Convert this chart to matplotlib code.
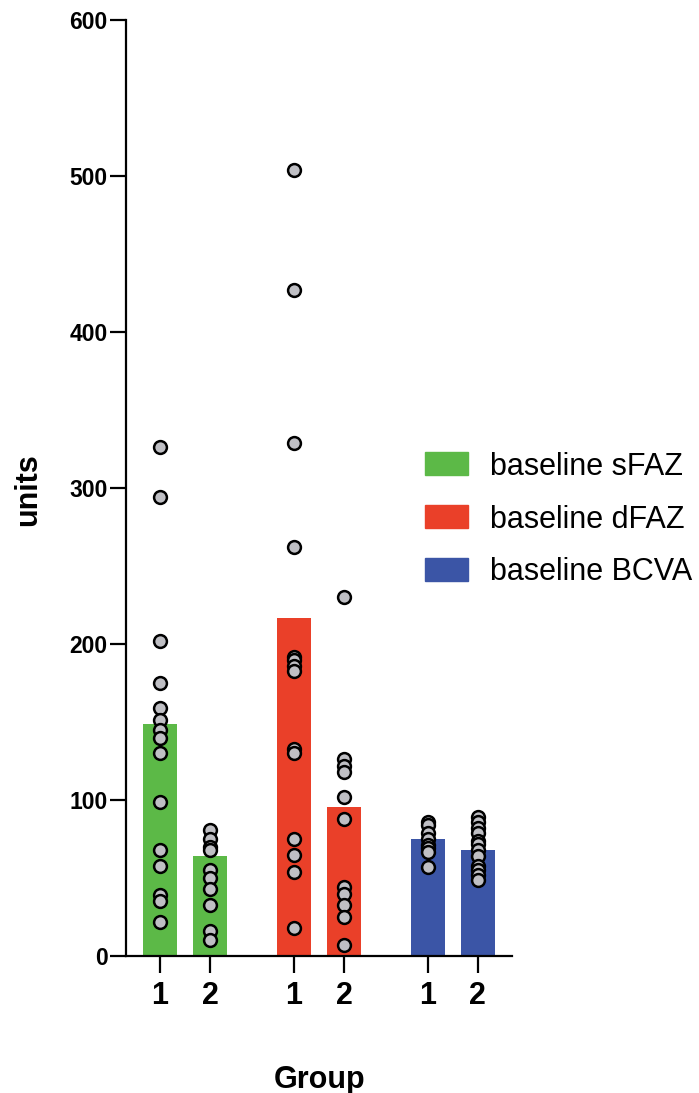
import numpy as np
import matplotlib
matplotlib.use('Agg')
import matplotlib.pyplot as plt
from matplotlib.patches import Patch

plt.rcParams['font.family'] = ['Liberation Sans', 'DejaVu Sans']

# data
series = ['baseline sFAZ', 'baseline dFAZ', 'baseline BCVA']
groups = ['1', '2']
colors = ['#5cb947', '#ea4029', '#3b55a6']

bar_heights = [[148.5, 64], [216.5, 95.5], [75, 68]]

sfaz_1 = [326, 294, 202, 175, 159, 151, 145, 140, 130, 99, 68, 58, 39, 35, 22]
sfaz_2 = [81, 75, 70, 68, 55, 50, 43, 33, 16, 10]
dfaz_1 = [504, 427, 329, 262, 192, 190, 186, 183, 133, 130, 75, 65, 54, 18]
dfaz_2 = [230, 126, 122, 118, 102, 88, 44, 40, 33, 25, 7]
bcva_1 = [86, 84, 79, 75, 71, 69, 67, 57]
bcva_2 = [89, 86, 82, 79, 74, 72, 68, 64, 58, 55, 52, 49]
points = [[sfaz_1, sfaz_2], [dfaz_1, dfaz_2], [bcva_1, bcva_2]]

fig = plt.figure(figsize=(6.99, 10.93), dpi=100)
ax = fig.add_axes([0.180, 0.1253, 0.5525, 0.8564])

gap = 2.67
w = 0.68
ticks = []
for i, name in enumerate(series):
    for j in range(2):
        x = i * gap + j
        ticks.append(x)
        ax.bar(x, bar_heights[i][j], width=w, color=colors[i], zorder=1)
        ys = points[i][j]
        ax.scatter([x] * len(ys), ys, s=85, facecolor='#bfbfc4', edgecolor='black',
                   linewidth=1.8, zorder=3)

ax.set_xlim(-0.68, 2 * gap + 1 + 0.68)
ax.set_ylim(0, 600)
ax.set_yticks(range(0, 601, 100))
ax.set_xticks(ticks)
ax.set_xticklabels(groups * 3)

for s in ['top', 'right']:
    ax.spines[s].set_visible(False)
for s in ['left', 'bottom']:
    ax.spines[s].set_linewidth(1.6)

ax.tick_params(axis='y', length=11.5, width=1.6, labelsize=16.5, pad=1.5)
ax.tick_params(axis='x', length=12, width=1.6, labelsize=22, pad=6)
for lab in ax.get_xticklabels() + ax.get_yticklabels():
    lab.set_fontweight('bold')

ax.set_ylabel('units', fontsize=22, fontweight='bold')
ax.yaxis.set_label_coords(-0.215, 0.498)
ax.set_xlabel('Group', fontsize=22, fontweight='bold')
ax.xaxis.set_label_coords(0.5026, -0.1165)

handles = [Patch(color=c) for c in colors]
fig.legend(handles, series, loc='center left', bbox_to_anchor=(0.608, 0.5247),
           frameon=False, fontsize=22, handlelength=1.4, handleheight=0.78,
           handletextpad=0.72, labelspacing=0.75, borderpad=0, borderaxespad=0)

fig.savefig('out.png', dpi=100)
